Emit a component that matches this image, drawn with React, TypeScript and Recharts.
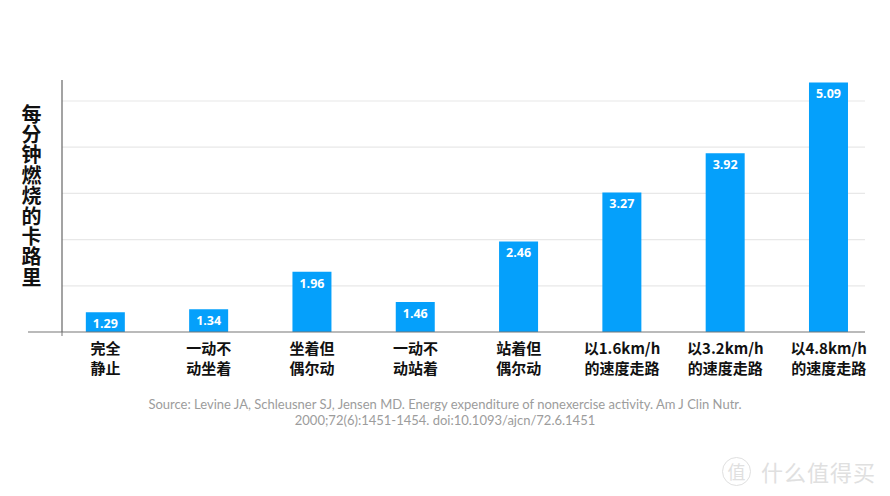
import { BarChart, Bar, XAxis, YAxis, ReferenceLine, LabelList } from 'recharts'

const line1 = ['完全', '一动不', '坐着但', '一动不', '站着但', '以1.6km/h', '以3.2km/h', '以4.8km/h']
const line2 = ['静止', '动坐着', '偶尔动', '动站着', '偶尔动', '的速度走路', '的速度走路', '的速度走路']
const calories = [1.29, 1.34, 1.96, 1.46, 2.46, 3.27, 3.92, 5.09]
const yTitle = '每分钟燃烧的卡路里'
const source = [
    'Source: Levine JA, Schleusner SJ, Jensen MD. Energy expenditure of nonexercise activity. Am J Clin Nutr.',
    '2000;72(6):1451-1454. doi:10.1093/ajcn/72.6.1451',
]
// the original axis is unlabeled and not to scale; these reproduce its grid
const yDomain = [0.964, 5.13]
const gridValues = [1.728, 2.492, 3.256, 4.019, 4.783]
const xDomain = [-0.421, 7.352]
const xTicks = [0, 1, 2, 3, 4, 5, 6, 7]

const BLUE = '#05a0fb'
const CJK = '"Noto Sans CJK SC", "Noto Sans", sans-serif'

const data = calories.map((v, i) => ({ i, value: v }))

const XTick = (props: any) => {
    const { x, y, payload } = props
    const idx = payload.value
    return (
        <g>
            <text x={x} y={y + 14} textAnchor="middle" fontFamily={CJK} fontWeight={700} fontSize={15} fill="#111">
                {line1[idx]}
            </text>
            <text x={x} y={y + 34} textAnchor="middle" fontFamily={CJK} fontWeight={700} fontSize={15} fill="#111">
                {line2[idx]}
            </text>
        </g>
    )
}

const BaseLine = (props: any) => {
    const { x1, x2, y1 } = props
    return (
        <g>
            <line x1={x1 - 34} x2={x2} y1={y1} y2={y1} stroke="#777" strokeWidth={1.2} />
            <line x1={x1} x2={x1} y1={y1} y2={y1 + 4} stroke="#777" strokeWidth={1} />
        </g>
    )
}

const App = () => {
    return (
        <div style={{ position: 'absolute', left: 0, top: 0, width: 890, height: 496, background: '#fff' }}>
            <BarChart
                width={890}
                height={496}
                data={data}
                margin={{ top: 80, right: 25, bottom: 134, left: 54 }}
            >
                <YAxis
                    type="number"
                    domain={yDomain}
                    allowDataOverflow
                    width={8}
                    tick={false}
                    tickLine={false}
                    axisLine={{ stroke: '#666', strokeWidth: 1.2 }}
                />
                <XAxis
                    type="number"
                    dataKey="i"
                    domain={xDomain}
                    ticks={xTicks}
                    allowDataOverflow
                    height={30}
                    axisLine={false}
                    tickLine={false}
                    interval={0}
                    tick={<XTick />}
                />
                {gridValues.map((g) => (
                    <ReferenceLine key={g} y={g} stroke="#e8e8e8" strokeWidth={1.2} zIndex={-100} />
                ))}
                <ReferenceLine y={yDomain[0]} shape={BaseLine} />
                <Bar dataKey="value" fill={BLUE} barSize={39} isAnimationActive={false}>
                    <LabelList
                        dataKey="value"
                        position="insideTop"
                        offset={7}
                        fill="#fff"
                        fontSize={12.5}
                        fontWeight={700}
                        fontFamily="'Open Sans', sans-serif"
                        formatter={(v: any) => Number(v).toFixed(2)}
                    />
                </Bar>
            </BarChart>
            <div
                style={{
                    position: 'absolute',
                    left: 20,
                    top: 104,
                    writingMode: 'vertical-rl',
                    textOrientation: 'upright',
                    fontFamily: CJK,
                    fontWeight: 700,
                    fontSize: 20,
                    lineHeight: '22px',
                    letterSpacing: 0.4,
                    color: '#111',
                }}
            >
                {yTitle}
            </div>
            <div
                style={{
                    position: 'absolute',
                    left: 0,
                    top: 396,
                    width: 890,
                    textAlign: 'center',
                    fontFamily: 'Lato, "Open Sans", sans-serif',
                    fontSize: 13,
                    lineHeight: '16px',
                    color: '#9c9c9c',
                }}
            >
                {source.map((s, i) => (
                    <div key={i}>{s}</div>
                ))}
            </div>
            <div
                style={{
                    position: 'absolute',
                    left: 722,
                    top: 455,
                    display: 'flex',
                    alignItems: 'center',
                    fontFamily: CJK,
                    color: '#e0e0e0',
                }}
            >
                <div
                    style={{
                        width: 27,
                        height: 27,
                        borderRadius: '50%',
                        border: '1.5px solid #e0e0e0',
                        fontSize: 18,
                        lineHeight: '27px',
                        textAlign: 'center',
                        marginRight: 10,
                    }}
                >
                    值
                </div>
                <div style={{ fontSize: 22, letterSpacing: 1 }}>什么值得买</div>
            </div>
        </div>
    )
}

export default App
